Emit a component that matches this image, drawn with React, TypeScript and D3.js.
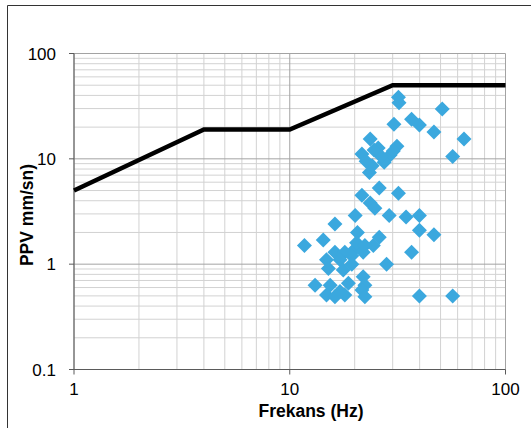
import React from "react";
import * as d3 from "d3";

const frequency = [
  31.9, 32.1, 50.9, 30.4, 36.7, 39.9, 46.6, 64.2, 56.9, 23.6, 21.6, 25.7, 29.2, 24.1, 27.4, 31.4, 30.2, 26.5,
  22.6, 24.6,
  23.4, 26.0, 21.6, 31.9, 23.6, 24.8, 20.1, 28.9, 34.6, 39.9, 16.2, 39.9, 46.6, 20.6, 26.0, 24.4, 14.3, 11.7,
  36.7, 20.1, 16.2, 14.8, 21.9, 28.1, 20.4, 18.0, 22.3, 19.4, 17.1,
  15.1, 17.7, 19.4, 21.9, 13.1, 15.4, 18.7, 22.3, 21.6, 14.8, 16.2, 18.0, 22.3, 39.9, 56.9, 17.1,
];
const ppv = [
  38.4, 34.1, 29.7, 21.3, 23.7, 20.9, 18.0, 15.4, 10.5, 15.4, 11.1, 12.7, 10.9, 8.6, 9.3, 13.2, 11.9, 10.6,
  9.5, 12.1,
  7.4, 5.3, 4.5, 4.7, 3.8, 3.4, 2.9, 2.9, 2.8, 2.9, 2.4, 2.1, 1.9, 2.0, 1.8, 1.5, 1.7, 1.5,
  1.3, 1.4, 1.3, 1.1, 1.3, 1.0, 1.6, 1.3, 1.5, 1.2, 1.1,
  0.91, 0.88, 1.0, 0.76, 0.63, 0.63, 0.66, 0.63, 0.57, 0.51, 0.49, 0.51, 0.49, 0.5, 0.5, 0.55,
];

const limitFreq = [1, 4, 10, 30, 100];
const limitPPV = [5, 19, 19, 50, 50];

const xTicks = [1, 10, 100];
const yTicks = [0.1, 1, 10, 100];
const xTickLabels = ["1", "10", "100"];
const yTickLabels = ["0.1", "1", "10", "100"];

const xTitle = "Frekans (Hz)";
const yTitle = "PPV mm/sn)";

const W = 531;
const H = 428;
const FONT = "'Liberation Sans', Arial, sans-serif";

export default function App() {
  const x = d3.scaleLog().domain([1, 100]).range([74, 505.5]);
  const y = d3.scaleLog().domain([0.1, 100]).range([369.5, 53.5]);

  const minorX: number[] = [];
  for (const dec of [1, 10]) for (let k = 2; k <= 9; k++) minorX.push(dec * k);
  const minorY: number[] = [];
  for (const dec of [0.1, 1, 10]) for (let k = 2; k <= 9; k++) minorY.push(dec * k);

  const line = d3
    .line<number>()
    .x((_, i) => x(limitFreq[i]))
    .y((d) => y(d));

  const diamond = "M0,-7.5L7.5,0L0,7.5L-7.5,0Z";

  return (
    <svg
      width={W}
      height={H}
      style={{ position: "absolute", left: 0, top: 0, background: "#fff" }}
      fontFamily={FONT}
    >
      <rect x={0} y={0} width={W} height={H} fill="#fff" />
      {/* frame */}
      <line x1={7.5} y1={5.5} x2={W} y2={5.5} stroke="#333" strokeWidth={1} />
      <line x1={7.5} y1={5.5} x2={7.5} y2={H} stroke="#333" strokeWidth={1} />

      {/* minor grid */}
      {minorX.map((v) => (
        <line key={"mx" + v} x1={x(v)} x2={x(v)} y1={y(100)} y2={y(0.1)} stroke="#d2d2d2" strokeWidth={1} />
      ))}
      {minorY.map((v) => (
        <line key={"my" + v} x1={x(1)} x2={x(100)} y1={y(v)} y2={y(v)} stroke="#d2d2d2" strokeWidth={1} />
      ))}
      {/* major grid */}
      {xTicks.map((v) => (
        <line key={"gx" + v} x1={x(v)} x2={x(v)} y1={y(100)} y2={y(0.1)} stroke="#a3a3a3" strokeWidth={1} />
      ))}
      {yTicks.map((v) => (
        <line key={"gy" + v} x1={x(1)} x2={x(100)} y1={y(v)} y2={y(v)} stroke="#a3a3a3" strokeWidth={1} />
      ))}

      {/* axes */}
      <line x1={x(1)} x2={x(1)} y1={y(100)} y2={y(0.1)} stroke="#5a5a5a" strokeWidth={1} />
      <line x1={x(1)} x2={x(100)} y1={y(0.1)} y2={y(0.1)} stroke="#5a5a5a" strokeWidth={1} />
      {yTicks.map((v) => (
        <line key={"ty" + v} x1={x(1) - 5} x2={x(1)} y1={y(v)} y2={y(v)} stroke="#5a5a5a" strokeWidth={1} />
      ))}
      {xTicks.map((v) => (
        <line key={"tx" + v} x1={x(v)} x2={x(v)} y1={y(0.1)} y2={y(0.1) + 5} stroke="#5a5a5a" strokeWidth={1} />
      ))}

      {/* limit line */}
      <path d={line(limitPPV) || ""} fill="none" stroke="#000" strokeWidth={4.5} strokeLinejoin="miter" />

      {/* scatter */}
      {frequency.map((f, i) => (
        <path key={"p" + i} d={diamond} transform={`translate(${x(f)},${y(ppv[i])})`} fill="#3ba8de" />
      ))}

      {/* tick labels */}
      {yTicks.map((v, i) => (
        <text key={"ly" + v} x={56} y={y(v)} dy="0.36em" textAnchor="end" fontSize={17} fill="#000">
          {yTickLabels[i]}
        </text>
      ))}
      {xTicks.map((v, i) => (
        <text key={"lx" + v} x={x(v)} y={395} textAnchor="middle" fontSize={17} fill="#000">
          {xTickLabels[i]}
        </text>
      ))}

      {/* titles */}
      <text x={311} y={416.5} textAnchor="middle" fontSize={17.5} fontWeight="bold" fill="#000">
        {xTitle}
      </text>
      <text
        transform={`translate(33,215) rotate(-90)`}
        textAnchor="middle"
        fontSize={17.5}
        fontWeight="bold"
        fill="#000"
      >
        {yTitle}
      </text>
    </svg>
  );
}
